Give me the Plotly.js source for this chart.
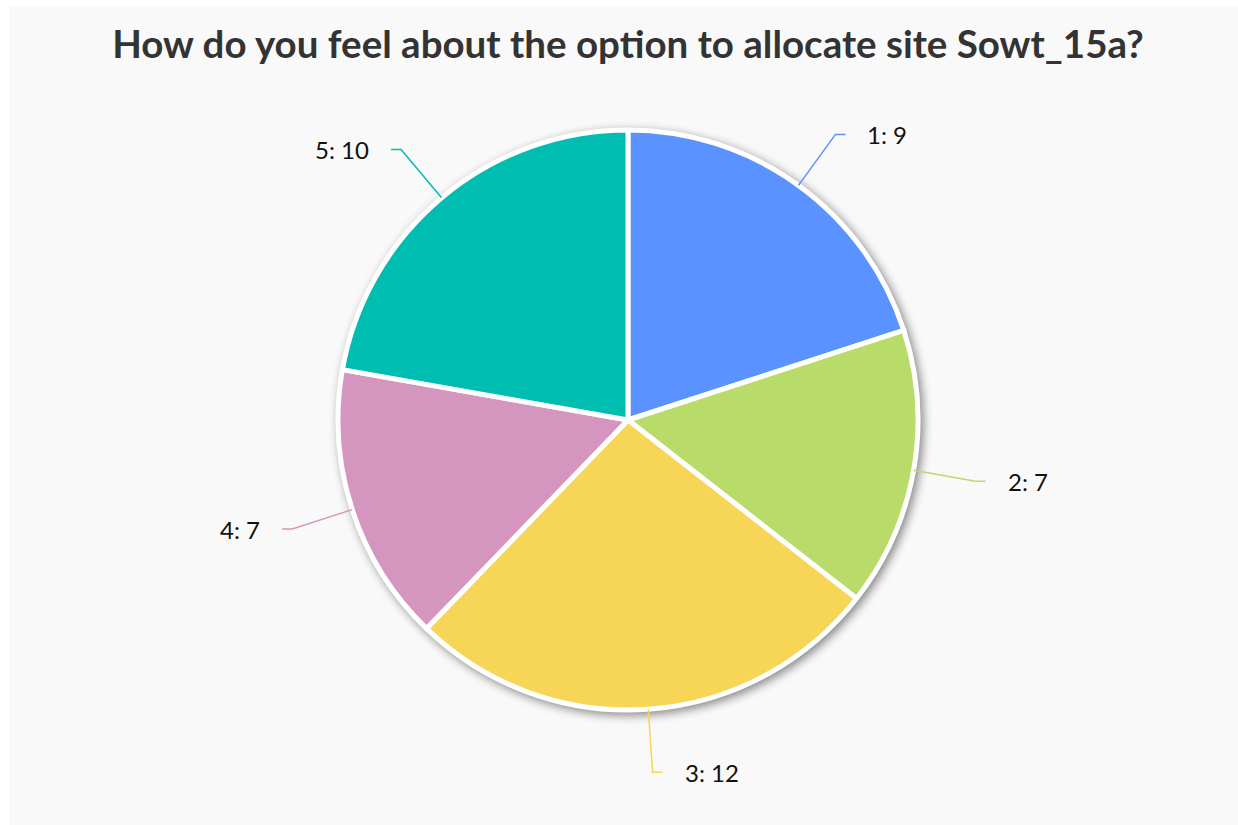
<!DOCTYPE html>
<html>
<head>
<meta charset="utf-8">
<script src="https://cdn.plot.ly/plotly-3.0.1.min.js"></script>
<style>
  html, body { margin: 0; padding: 0; background: #ffffff; }
  #chart { position: absolute; left: 9px; top: 6px; width: 1229px; height: 819px; }
  #chart .pielayer { filter: drop-shadow(3px 3px 5px rgba(0,0,0,0.45)); }
</style>
</head>
<body>
<div id="chart"></div>
<script>
const categories = ["1", "2", "3", "4", "5"];
const values = [9, 7, 12, 7, 10];
const colors = ["#5a92ff", "#b9db69", "#f7d657", "#d495bf", "#00bdb2"];
const titleText = "How do you feel about the option to allocate site Sowt_15a?";

const W = 1229, H = 819;
const cx = 619, cy = 414, R = 290;        // pie centre & radius (px in plot)
const Rbend = 353, hookLen = 10, gap = 20;

const px2x = p => p / W;
const py2y = p => 1 - p / H;

const total = values.reduce((a, b) => a + b, 0);
const shapes = [], annotations = [];
let acc = 0;
values.forEach((v, i) => {
  const mid = (acc + v / 2) / total * 2 * Math.PI;
  acc += v;
  const s = Math.sin(mid), c = Math.cos(mid);
  const x0 = cx + R * s, y0 = cy - R * c;
  const x1 = cx + Rbend * s, y1 = cy - Rbend * c;
  const dir = s >= 0 ? 1 : -1;
  const x2 = x1 + dir * hookLen;
  shapes.push({
    type: "path", xref: "paper", yref: "paper",
    path: `M ${px2x(x0)},${py2y(y0)} L ${px2x(x1)},${py2y(y1)} L ${px2x(x2)},${py2y(y1)}`,
    line: { color: colors[i], width: 1.5 }
  });
  annotations.push({
    xref: "paper", yref: "paper",
    x: px2x(x2 + dir * gap), y: py2y(y1),
    xanchor: dir > 0 ? "left" : "right", yanchor: "middle",
    text: categories[i] + ": " + v, showarrow: false,
    font: { family: "Lato, 'Noto Sans', sans-serif", size: 24, color: "#111111" }
  });
});

const trace = {
  type: "pie",
  labels: categories,
  values: values,
  sort: false,
  direction: "clockwise",
  rotation: 0,
  textinfo: "none",
  hoverinfo: "label+value",
  marker: { colors: colors, line: { color: "#ffffff", width: 5 } },
  domain: { x: [px2x(cx - R), px2x(cx + R)], y: [py2y(cy + R), py2y(cy - R)] },
  showlegend: false
};

const layout = {
  width: W, height: H,
  paper_bgcolor: "#f9f9f9",
  plot_bgcolor: "#f9f9f9",
  margin: { l: 0, r: 0, t: 0, b: 0 },
  title: {
    text: "<b>" + titleText + "</b>",
    x: px2x(619), xanchor: "center",
    y: py2y(39), yanchor: "middle", yref: "paper",
    font: { family: "Lato, 'Noto Sans', sans-serif", size: 38.5, color: "#333333" }
  },
  shapes: shapes,
  annotations: annotations
};

Plotly.newPlot("chart", [trace], layout, { displayModeBar: false, staticPlot: true });
</script>
</body>
</html>
